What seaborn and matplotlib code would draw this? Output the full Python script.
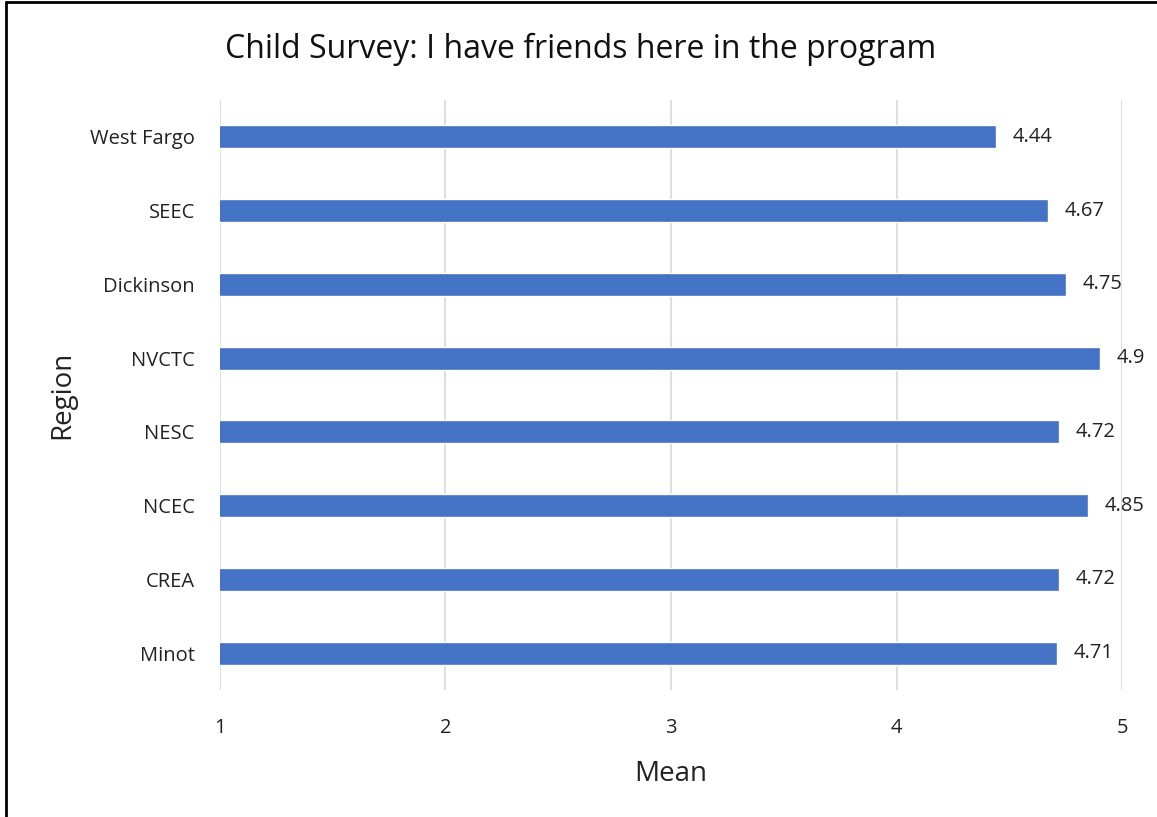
import pandas as pd
import seaborn as sns
import matplotlib.pyplot as plt
from matplotlib.lines import Line2D

regions = ["West Fargo", "SEEC", "Dickinson", "NVCTC", "NESC", "NCEC", "CREA", "Minot"]
means = [4.44, 4.67, 4.75, 4.9, 4.72, 4.85, 4.72, 4.71]
labels = ["4.44", "4.67", "4.75", "4.9", "4.72", "4.85", "4.72", "4.71"]
x_ticks = [1, 2, 3, 4, 5]

df = pd.DataFrame({"Region": regions, "Mean": means})

sns.set_style("white")
plt.rcParams["font.family"] = ["Open Sans", "DejaVu Sans"]

fig = plt.figure(figsize=(11.57, 8.17), dpi=100)
ax = fig.add_axes([0.190, 0.1554, 0.780, 0.7222])

sns.barplot(data=df, x="Mean", y="Region", orient="h", color="#4472C4",
            width=0.31, saturation=1, ax=ax, order=regions)

ax.set_xlim(1, 5)
ax.set_xticks(x_ticks)
ax.set_ylim(len(regions) - 0.5, -0.5)
ax.grid(axis="x", color="#d9d9d9", linewidth=1.2)
ax.set_axisbelow(True)
for s in ax.spines.values():
    s.set_visible(False)
ax.tick_params(axis="both", length=0, labelsize=14.5, colors="#222222")
ax.tick_params(axis="y", pad=18)
ax.tick_params(axis="x", pad=20)

ax.bar_label(ax.containers[0], labels=labels, padding=12, fontsize=14.5, color="#222222")

ax.set_xlabel("Mean", fontsize=20, color="#222222", labelpad=16)
ax.set_ylabel("Region", fontsize=20, color="#222222", labelpad=10)
fig.text(0.502, 0.940, "Child Survey: I have friends here in the program",
         fontsize=23, ha="center", va="center", color="#111111")

# outer chart border (left and top visible)
fig.add_artist(Line2D([0.0050, 0.0050], [0, 0.9975], transform=fig.transFigure, color="black", lw=2))
fig.add_artist(Line2D([0.0050, 1.0], [0.9975, 0.9975], transform=fig.transFigure, color="black", lw=2))

fig.savefig("out.png", dpi=100)
